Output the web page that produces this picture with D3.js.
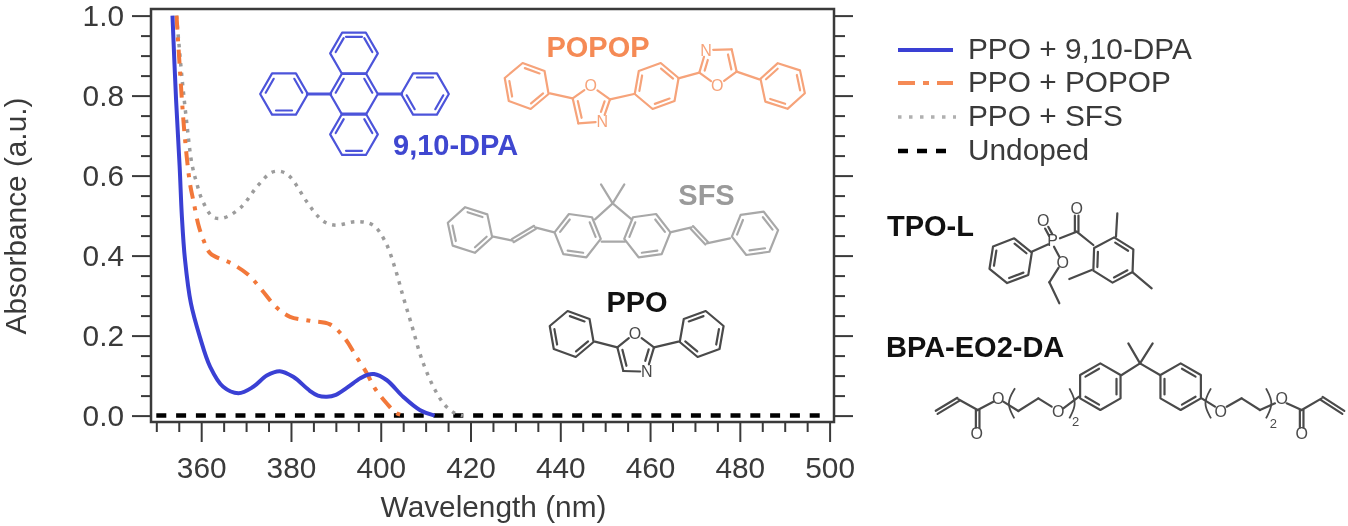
<!DOCTYPE html>
<html>
<head>
<meta charset="utf-8">
<script src="https://cdn.jsdelivr.net/npm/d3@7"></script>
<style>
  html, body { margin: 0; padding: 0; background: #fff; }
  svg { display: block; filter: blur(0.7px); }
  text { font-family: "Liberation Sans", Arial, sans-serif; }
</style>
</head>
<body>
<svg id="chart" width="1348" height="526"></svg>
<script>
// values
const dpaWavelength = [353.6, 354.4, 355.2, 355.7, 356.4, 357.7, 359.7, 362, 364.9, 368.3, 371.6, 374.6, 377.5, 380.5, 384.2, 386, 388, 390, 392.5, 395.4, 397, 398.5, 401.3, 405, 408.7, 412];
const dpaAbsorbance = [1.0, 0.79, 0.622, 0.497, 0.389, 0.281, 0.197, 0.122, 0.072, 0.056, 0.072, 0.1, 0.111, 0.097, 0.062, 0.05, 0.047, 0.052, 0.07, 0.093, 0.102, 0.104, 0.089, 0.047, 0.014, 0];

const popopWavelength = [354.5, 355.7, 356.4, 357.5, 358.3, 359.4, 360.5, 362, 366.8, 370.5, 373.5, 376.8, 379.8, 384.2, 388.7, 392, 394.3, 396.9, 398.7, 401.3, 403.5, 405.4];
const popopAbsorbance = [1.0, 0.79, 0.69, 0.58, 0.535, 0.476, 0.439, 0.406, 0.38, 0.352, 0.314, 0.27, 0.247, 0.237, 0.228, 0.193, 0.152, 0.106, 0.068, 0.031, 0.006, 0];

const sfsWavelength = [354.5, 355.7, 356.8, 357.9, 359, 360.3, 362.6, 364.9, 368.7, 372.7, 375.7, 377.9, 379.8, 383.5, 386.1, 388, 390.2, 394.6, 398.3, 401, 403.2, 405, 406.9, 408.7, 410.2, 412.1, 414.3, 416.5, 418.3];
const sfsAbsorbance = [1.0, 0.847, 0.73, 0.631, 0.581, 0.537, 0.497, 0.494, 0.519, 0.576, 0.608, 0.61, 0.597, 0.535, 0.497, 0.481, 0.476, 0.485, 0.476, 0.435, 0.368, 0.297, 0.226, 0.156, 0.11, 0.064, 0.026, 0.006, 0];

const undopedWavelength = [350, 499];
const undopedAbsorbance = [0, 0];

const xMajorTicks = [360, 380, 400, 420, 440, 460, 480, 500];
const xMinorTicks = [350, 355, 365, 370, 375, 385, 390, 395, 405, 410, 415, 425, 430, 435, 445, 450, 455, 465, 470, 475, 485, 490, 495];
const yMajorTicks = [0, 0.2, 0.4, 0.6, 0.8, 1.0];
const yMinorTicks = [0.05, 0.1, 0.15, 0.25, 0.3, 0.35, 0.45, 0.5, 0.55, 0.65, 0.7, 0.75, 0.85, 0.9, 0.95];

const legendLabels = ["PPO + 9,10-DPA", "PPO + POPOP", "PPO + SFS", "Undoped"];

const blue = "#3a40d4", orange = "#f2783a", gray = "#9c9c9c", dark = "#3a3a3a";
const blueMol = "#4c54da", orangeMol = "#f6a37a", grayMol = "#a8a8a8", darkMol = "#4a4a4a";
const fontSize = 29.8, boldSize = 29;

const svg = d3.select("#chart");

const frame = { left: 151, right: 834, top: 9, bottom: 422 };

const x = d3.scaleLinear().domain([360, 500]).range([201.2, 829.6]);
const y = d3.scaleLinear().domain([0, 1]).range([415.6, 15.6]);

const line = d3.line()
    .x(d => x(d[0]))
    .y(d => y(d[1]))
    .curve(d3.curveCatmullRom);

function styleAxis(g, keepText) {
  g.select(".domain").remove();
  g.selectAll("line").attr("stroke", dark).attr("stroke-width", 2);
  if (keepText) {
    g.selectAll("text").attr("font-size", fontSize).attr("fill", dark)
      .attr("font-family", "Liberation Sans");
  } else {
    g.selectAll("text").remove();
  }
}

// x axis
svg.append("g").attr("transform", `translate(0,${frame.bottom})`)
    .call(d3.axisBottom(x).tickValues(xMajorTicks).tickSize(20).tickPadding(14.5).tickFormat(d3.format("d")))
    .call(g => styleAxis(g, true));
svg.append("g").attr("transform", `translate(0,${frame.bottom})`)
    .call(d3.axisBottom(x).tickValues(xMinorTicks).tickSize(10))
    .call(g => styleAxis(g, false));

// y axis, mirrored on the right without labels
svg.append("g").attr("transform", `translate(${frame.left},0)`)
    .call(d3.axisLeft(y).tickValues(yMajorTicks).tickSize(19).tickPadding(8).tickFormat(d3.format(".1f")))
    .call(g => styleAxis(g, true));
svg.append("g").attr("transform", `translate(${frame.left},0)`)
    .call(d3.axisLeft(y).tickValues(yMinorTicks).tickSize(10))
    .call(g => styleAxis(g, false));
svg.append("g").attr("transform", `translate(${frame.right},0)`)
    .call(d3.axisRight(y).tickValues(yMajorTicks).tickSize(19))
    .call(g => styleAxis(g, false));
svg.append("g").attr("transform", `translate(${frame.right},0)`)
    .call(d3.axisRight(y).tickValues(yMinorTicks).tickSize(11))
    .call(g => styleAxis(g, false));

svg.append("rect")
    .attr("x", frame.left).attr("y", frame.top)
    .attr("width", frame.right - frame.left).attr("height", frame.bottom - frame.top)
    .attr("fill", "none").attr("stroke", dark).attr("stroke-width", 2.5);

svg.append("text").attr("x", 493.5).attr("y", 517)
    .attr("text-anchor", "middle").attr("font-size", fontSize).attr("fill", dark)
    .text("Wavelength (nm)");
svg.append("text").attr("transform", "translate(26,216) rotate(-90)")
    .attr("text-anchor", "middle").attr("font-size", fontSize).attr("fill", dark)
    .text("Absorbance (a.u.)");

// curves
const curves = [
  { xs: undopedWavelength, ys: undopedAbsorbance, color: "#000", width: 4.5, dash: "10,9.8" },
  { xs: sfsWavelength, ys: sfsAbsorbance, color: gray, width: 3.5, dash: "3.5,6" },
  { xs: popopWavelength, ys: popopAbsorbance, color: orange, width: 4, dash: "14,8,4,8" },
  { xs: dpaWavelength, ys: dpaAbsorbance, color: blue, width: 4, dash: null }
];
curves.forEach(c => {
  svg.append("path")
      .datum(c.xs.map((d, i) => [d, c.ys[i]]))
      .attr("fill", "none")
      .attr("stroke", c.color)
      .attr("stroke-width", c.width)
      .attr("stroke-dasharray", c.dash)
      .attr("d", line);
});

// legend
const legendRows = [
  { color: blue, width: 4, dash: null, y: 50, base: 59, end: 953 },
  { color: "#f58a55", width: 4, dash: "17,8,6,8", y: 83, base: 92, end: 953 },
  { color: "#b0b0b0", width: 3.5, dash: "3.5,7.5", y: 117, base: 126, end: 956 },
  { color: "#000", width: 4.5, dash: "10,9", y: 151, base: 160, end: 950 }
];
legendRows.forEach((r, i) => {
  svg.append("line").attr("x1", 898).attr("x2", r.end).attr("y1", r.y).attr("y2", r.y)
      .attr("stroke", r.color).attr("stroke-width", r.width).attr("stroke-dasharray", r.dash);
  svg.append("text").attr("x", 968).attr("y", r.base)
      .attr("font-size", fontSize).attr("fill", dark).text(legendLabels[i]);
});

// chemical structures: helpers take points
const crop = (ox, oy) => (px, py) => [ox + px / 3, oy + py / 3];
const side = 70 / 3;
const bondWidth = 2.2;

function bond(a, b, color, w) {
  svg.append("line").attr("x1", a[0]).attr("y1", a[1]).attr("x2", b[0]).attr("y2", b[1])
      .attr("stroke", color).attr("stroke-width", w || bondWidth).attr("stroke-linecap", "round");
}
function dbl(a, b, color) {
  const dx = b[0] - a[0], dy = b[1] - a[1], len = Math.hypot(dx, dy);
  const nx = -dy / len * 1.8, ny = dx / len * 1.8;
  bond([a[0] + nx, a[1] + ny], [b[0] + nx, b[1] + ny], color);
  bond([a[0] - nx, a[1] - ny], [b[0] - nx, b[1] - ny], color);
}
function innerBond(a, b, centre, color) {
  const shift = p => [p[0] + (centre[0] - p[0]) * 0.2, p[1] + (centre[1] - p[1]) * 0.2];
  const p = shift(a), q = shift(b);
  const t = 0.08;
  bond([p[0] + (q[0] - p[0]) * t, p[1] + (q[1] - p[1]) * t], [q[0] - (q[0] - p[0]) * t, q[1] - (q[1] - p[1]) * t], color);
}
function ring(c, r, rot, doubles, color) {
  const v = d3.range(6).map(i => {
    const a = (rot + 60 * i) * Math.PI / 180;
    return [c[0] + r * Math.cos(a), c[1] + r * Math.sin(a)];
  });
  svg.append("path").attr("d", d3.line().curve(d3.curveLinearClosed)(v))
      .attr("fill", "none").attr("stroke", color).attr("stroke-width", bondWidth).attr("stroke-linejoin", "round");
  doubles.forEach(e => innerBond(v[e], v[(e + 1) % 6], c, color));
}
function atom(p, t, color, size) {
  svg.append("text").attr("x", p[0]).attr("y", p[1]).attr("dy", "0.36em")
      .attr("text-anchor", "middle").attr("font-size", size || 16).attr("fill", color).text(t);
}
function paren(a, m, b, color) {
  svg.append("path").attr("d", d3.line().curve(d3.curveBasis)([a, m, b]))
      .attr("fill", "none").attr("stroke", color).attr("stroke-width", 1.8);
}
function title(t, px, py, anchor, color) {
  svg.append("text").attr("x", px).attr("y", py).attr("text-anchor", anchor)
      .attr("font-size", boldSize).attr("font-weight", "bold").attr("fill", color).text(t);
}

function oxazole(P, o, c2, n, c4, c5, color) {
  const trim = (a, b, f) => [a[0] + (b[0] - a[0]) * f, a[1] + (b[1] - a[1]) * f];
  bond(trim(P(...c5), P(...o), 0), trim(P(...c5), P(...o), 0.65), color);
  bond(trim(P(...c2), P(...o), 0), trim(P(...c2), P(...o), 0.65), color);
  bond(P(...c2), trim(P(...c2), P(...n), 0.7), color);
  innerBond(P(...c2), trim(P(...c2), P(...n), 0.7), P((o[0] + c4[0]) / 2, (o[1] + c4[1]) / 2), color);
  bond(P(...c4), trim(P(...c4), P(...n), 0.72), color);
  bond(P(...c4), P(...c5), color);
  innerBond(P(...c4), P(...c5), P((o[0] + n[0]) / 2, (o[1] + n[1]) / 2), color);
  atom(P(...o), "O", color);
  atom(P(...n), "N", color);
}

// 9,10-DPA
{
  const P = crop(130, 0), c = blueMol, r = 71.5 / 3;
  ring(P(672, 160), r, 0, [3, 5, 4], c);
  ring(P(672, 282), r, 0, [3, 5], c);
  ring(P(672, 403), r, 0, [3, 5, 1], c);
  ring(P(462, 282), r, 0, [3, 5, 1], c);
  ring(P(885, 282), r, 0, [4, 0, 2], c);
  bond(P(532, 282), P(602, 282), c, 3);
  bond(P(745, 282), P(815, 282), c, 3);
  title("9,10-DPA", 393, 155, "start", "#3f47d0");
}

// POPOP
{
  const P = crop(430, 20), c = orangeMol;
  ring(P(290, 198), side, 20, [0, 2, 4], c);
  ring(P(680, 198), side, 40, [0, 2, 4], c);
  ring(P(1058, 198), side, 18, [1, 3, 5], c);
  oxazole(P, [482, 197], [540, 238], [517, 305], [445, 310], [428, 235], c);
  oxazole(P, [862, 197], [808, 158], [828, 90], [905, 88], [920, 155], c);
  bond(P(360, 220), P(428, 235), c);
  bond(P(540, 238), P(612, 222), c);
  bond(P(745, 175), P(808, 158), c);
  bond(P(920, 155), P(988, 178), c);
  title("POPOP", 598, 57, "middle", "#f58a55");
}

// SFS
{
  const P = crop(440, 170), c = grayMol;
  ring(P(90, 180), side, 18, [0, 2, 4], c);
  ring(P(413, 197), side, 8, [1, 3, 5], c);
  ring(P(622, 197), side, 52, [0, 2, 4], c);
  ring(P(945, 190), side, 52, [0, 2, 4], c);
  bond(P(160, 200), P(218, 212), c);
  dbl(P(218, 212), P(285, 172), c);
  bond(P(285, 172), P(343, 187), c);
  bond(P(465, 148), P(518, 100), c);
  bond(P(575, 148), P(518, 100), c);
  bond(P(485, 215), P(555, 215), c);
  bond(P(518, 100), P(483, 43), c);
  bond(P(518, 100), P(553, 43), c);
  bond(P(690, 187), P(755, 172), c);
  dbl(P(755, 172), P(800, 220), c);
  bond(P(800, 220), P(870, 205), c);
  title("SFS", 706.5, 205, "middle", "#9a9a9a");
}

// PPO
{
  const P = crop(530, 270), c = darkMol;
  ring(P(125, 192), side, 20, [0, 2, 4], c);
  ring(P(515, 192), side, 40, [1, 3, 5], c);
  oxazole(P, [315, 190], [372, 232], [350, 305], [280, 303], [262, 232], c);
  bond(P(195, 215), P(262, 232), c);
  bond(P(372, 232), P(445, 215), c);
  title("PPO", 637, 312, "middle", "#111");
}

// TPO-L
{
  const P = crop(980, 195), c = darkMol;
  ring(P(92, 197), 68 / 3, 39, [0, 2, 4], c);
  ring(P(400, 195), 68 / 3, 32, [0, 2, 4], c);
  bond(P(155, 170), P(205, 148), c);
  atom(P(218, 135), "P", c);
  dbl(P(212, 120), P(200, 98), c);
  atom(P(190, 75), "O", c);
  bond(P(240, 130), P(290, 110), c);
  dbl(P(290, 110), P(290, 62), c);
  atom(P(290, 40), "O", c);
  bond(P(290, 110), P(340, 150), c);
  bond(P(222, 155), P(238, 185), c);
  atom(P(248, 202), "O", c);
  bond(P(236, 218), P(208, 262), c);
  bond(P(208, 262), P(238, 325), c);
  bond(P(408, 125), P(412, 55), c);
  bond(P(335, 225), P(268, 252), c);
  bond(P(458, 232), P(515, 280), c);
  title("TPO-L", 887, 236, "start", "#111");
}

// BPA-EO2-DA
{
  const c = darkMol;
  const L = crop(930, 335), R = crop(1130, 335);
  ring(L(511, 155), side, 30, [1, 3, 5], c);
  ring(R(152, 155), side, 30, [0, 2, 4], c);
  // quaternary carbon and methyls
  bond(L(575, 120), R(30, 85), c);
  bond(R(90, 120), R(30, 85), c);
  bond(L(595, 25), R(30, 85), c);
  bond(R(68, 25), R(30, 85), c);
  // left arm
  dbl(L(20, 232), L(85, 193), c);
  bond(L(85, 193), L(143, 225), c);
  dbl(L(143, 225), L(143, 278), c);
  atom(L(140, 296), "O", c);
  bond(L(143, 225), L(190, 200), c);
  atom(L(205, 190), "O", c);
  bond(L(220, 200), L(265, 228), c);
  bond(L(265, 228), L(325, 190), c);
  bond(L(325, 190), L(365, 215), c);
  atom(L(385, 228), "O", c);
  bond(L(400, 220), L(447, 185), c);
  paren(L(255, 160), L(228, 205), L(253, 250), c);
  paren(L(418, 160), L(442, 205), L(418, 250), c);
  atom(L(437, 258), "2", c, 13);
  // right arm
  bond(R(215, 190), R(255, 215), c);
  atom(R(272, 228), "O", c);
  bond(R(290, 215), R(335, 190), c);
  bond(R(335, 190), R(390, 225), c);
  bond(R(390, 225), R(435, 205), c);
  atom(R(455, 190), "O", c);
  bond(R(470, 205), R(515, 225), c);
  dbl(R(515, 225), R(515, 278), c);
  atom(R(515, 296), "O", c);
  bond(R(515, 225), R(575, 190), c);
  dbl(R(575, 190), R(640, 232), c);
  paren(R(243, 160), R(218, 205), R(243, 250), c);
  paren(R(408, 160), R(432, 205), R(408, 250), c);
  atom(R(430, 265), "2", c, 13);
  title("BPA-EO2-DA", 886, 357, "start", "#111");
}
</script>
</body>
</html>
